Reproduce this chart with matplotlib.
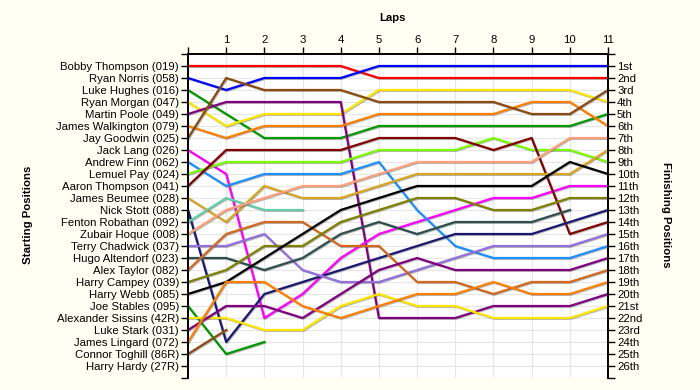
import matplotlib
matplotlib.use("Agg")
import matplotlib.pyplot as plt
import matplotlib.patheffects as pe
import numpy as np

plt.rcParams["font.family"] = ["Liberation Sans", "DejaVu Sans"]

BG_COLOR   = "#fffff4"
GRID_COLOR = "#e6e6e6"

# starting grid, top to bottom
drivers = [
    "Bobby Thompson (019)", "Ryan Norris (058)", "Luke Hughes (016)",
    "Ryan Morgan (047)", "Martin Poole (049)", "James Walkington (079)",
    "Jay Goodwin (025)", "Jack Lang (026)", "Andrew Finn (062)",
    "Lemuel Pay (024)", "Aaron Thompson (041)", "James Beumee (028)",
    "Nick Stott (088)", "Fenton Robathan (092)", "Zubair Hoque (008)",
    "Terry Chadwick (037)", "Hugo Altendorf (023)", "Alex Taylor (082)",
    "Harry Campey (039)", "Harry Webb (085)", "Joe Stables (095)",
    "Alexander Sissins (42R)", "Luke Stark (031)", "James Lingard (072)",
    "Connor Toghill (86R)", "Harry Hardy (27R)",
]

# position at each lap (lap 0 = start); short lists = retired
bobby_thompson   = [1, 1, 1, 1, 1, 2, 2, 2, 2, 2, 2, 2]
ryan_norris      = [2, 3, 2, 2, 2, 1, 1, 1, 1, 1, 1, 1]
luke_hughes      = [3, 5, 7, 7, 7, 6, 6, 6, 6, 6, 6, 5]
ryan_morgan      = [4, 6, 5, 5, 5, 3, 3, 3, 3, 3, 3, 4]
martin_poole     = [5, 4, 4, 4, 4, 22, 22, 22, 21, 21, 21, 20]
james_walkington = [6, 7, 6, 6, 6, 5, 5, 5, 5, 4, 4, 6]
jay_goodwin      = [7, 2, 3, 3, 3, 4, 4, 4, 4, 5, 5, 3]
jack_lang        = [8, 10, 22, 20, 17, 15, 14, 13, 12, 12, 11, 11]
andrew_finn      = [9, 11, 10, 10, 10, 9, 13, 16, 17, 17, 17, 16]
lemuel_pay       = [10, 9, 9, 9, 9, 8, 8, 8, 7, 8, 8, 9]
aaron_thompson   = [11, 8, 8, 8, 8, 7, 7, 7, 8, 7, 15, 14]
james_beumee     = [12, 14, 11, 12, 12, 11, 10, 10, 10, 10, 10, 8]
nick_stott       = [13, 24, 20, 19, 18, 17, 16, 15, 15, 15, 14, 13]
fenton_robathan  = [14, 12, 13, 13]
zubair_hoque     = [15, 13, 12, 11, 11, 10, 9, 9, 9, 9, 7, 7]
terry_chadwick   = [16, 16, 15, 18, 19, 19, 18, 17, 16, 16, 16, 15]
hugo_altendorf   = [17, 17, 18, 17, 15, 14, 15, 14, 14, 14, 13]
alex_taylor      = [18, 15, 14, 14, 16, 16, 19, 19, 20, 19, 19, 18]
harry_campey     = [19, 18, 16, 16, 14, 13, 12, 12, 13, 13, 12, 12]
harry_webb       = [20, 19, 17, 15, 13, 12, 11, 11, 11, 11, 9, 10]
joe_stables      = [21, 25, 24]
alexander_sissins = [22, 22, 23, 23, 21, 20, 21, 21, 22, 22, 22, 21]
luke_stark       = [23, 21, 21, 22, 20, 18, 17, 18, 18, 18, 18, 17]
james_lingard    = [24, 19, 19, 21, 22, 21, 20, 20, 19, 20, 20, 19]
connor_toghill   = [25, 23]
harry_hardy      = []

laps = list(range(0, 12))

line_colors = [
    "#ff0000", "#0000ff", "#009900", "#ffe600", "#800080", "#ff8000",
    "#8b4c13", "#ff00ff", "#1e90ff", "#7cfc00", "#800000", "#daa520",
    "#191970", "#66cdaa", "#ffa07a", "#9370db", "#2f4f4f", "#d2691e",
    "#808000", "#000000", "#009900", "#ffe600", "#800080", "#ff8000",
    "#8b4c13", "#ff0000",
]


def ordinal(n):
    if 10 <= n % 100 <= 20:
        suf = "th"
    else:
        suf = {1: "st", 2: "nd", 3: "rd"}.get(n % 10, "th")
    return f"{n}{suf}"


all_positions = [
    bobby_thompson, ryan_norris, luke_hughes, ryan_morgan, martin_poole,
    james_walkington, jay_goodwin, jack_lang, andrew_finn, lemuel_pay,
    aaron_thompson, james_beumee, nick_stott, fenton_robathan, zubair_hoque,
    terry_chadwick, hugo_altendorf, alex_taylor, harry_campey, harry_webb,
    joe_stables, alexander_sissins, luke_stark, james_lingard,
    connor_toghill, harry_hardy,
]

fig = plt.figure(figsize=(7, 3.9), dpi=100, facecolor=BG_COLOR)
ax = fig.add_axes([188 / 700, 12 / 390, 420 / 700, 324 / 390])
ax.set_facecolor("white")

n_rows = len(drivers)
for pos, col in zip(all_positions, line_colors):
    if not pos:
        continue
    ax.plot(laps[:len(pos)], pos, color=col, lw=1.6, zorder=3,
            path_effects=[pe.SimpleLineShadow(offset=(0.6, -0.6), shadow_color="#555555", alpha=0.45),
                          pe.Normal()])

ax.set_xlim(0, laps[-1])
ax.set_ylim(n_rows + 1, 0)

ax.xaxis.tick_top()
ax.set_xticks(laps)
ax.set_xticklabels([""] + [str(l) for l in laps[1:]])
ax.set_yticks(range(n_rows + 2))
ax.set_yticklabels([""] + drivers + [""])
ax.grid(True, color=GRID_COLOR, lw=0.8, zorder=0)
ax.set_axisbelow(True)

ax2 = ax.twinx()
ax2.set_ylim(n_rows + 1, 0)
ax2.set_yticks(range(n_rows + 2))
ax2.set_yticklabels([""] + [ordinal(i) for i in range(1, n_rows + 1)] + [""])

for a in (ax, ax2):
    a.spines["bottom"].set_visible(False)
    for s in ("top", "left", "right"):
        a.spines[s].set_linewidth(1.2)
    a.tick_params(axis="both", direction="out", length=5, width=1,
                  labelsize=8.2, pad=1.5, colors="black")

fig.text(392 / 700, 1 - 18 / 390, "Laps", ha="center", va="center",
         fontsize=8.2, fontweight="bold")
fig.text(28 / 700, 1 - 215 / 390, "Starting Positions", ha="center", va="center",
         rotation=90, fontsize=8.2, fontweight="bold")
fig.text(666 / 700, 1 - 215 / 390, "Finishing Positions", ha="center", va="center",
         rotation=270, fontsize=8.2, fontweight="bold")

fig.savefig("out.png", dpi=100, facecolor=BG_COLOR)
